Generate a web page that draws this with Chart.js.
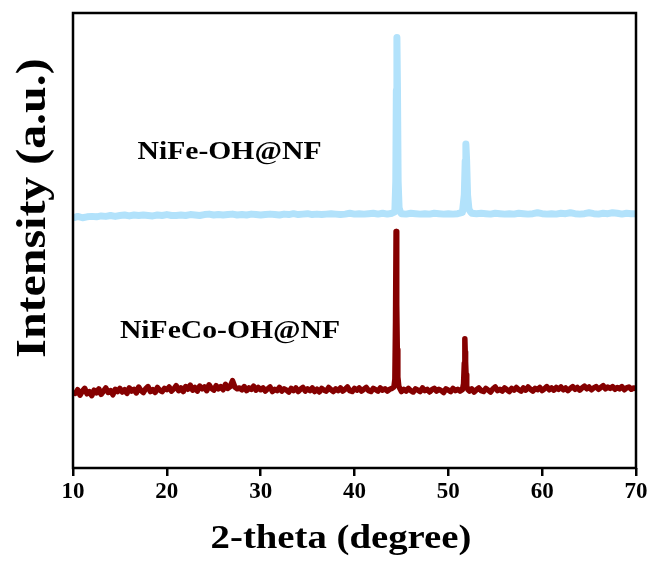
<!DOCTYPE html>
<html>
<head>
<meta charset="utf-8">
<script src="https://cdn.jsdelivr.net/npm/chart.js@4.4.1/dist/chart.umd.min.js"></script>
<style>
html,body{margin:0;padding:0;background:#fff;}
canvas{display:block;}
</style>
</head>
<body>
<canvas id="c" width="651" height="561"></canvas>
<script>
// ---- data ----
const xTicks = [10, 20, 30, 40, 50, 60, 70];
const seriesNames = ["NiFe-OH@NF", "NiFeCo-OH@NF"];
const xTitle = "2-theta (degree)";
const yTitle = "Intensity (a.u.)";

const niFeTheta = [10.2,10.5,11,11.5,12,12.5,13,13.5,14,14.5,15,15.5,16,16.5,17,17.5,18,18.5,19,19.5,20,20.5,21,21.5,22,22.5,23,23.5,24,24.5,25,25.5,26,26.5,27,27.5,28,28.5,29,29.5,30,30.5,31,31.5,32,32.5,33,33.5,34,34.5,35,35.5,36,36.5,37,37.5,38,38.5,39,39.5,40,40.5,41,41.5,42,42.5,43,43.5,44,44.3,44.4,44.46,44.52,44.58,44.65,44.75,44.9,45,45.5,46,46.5,47,47.5,48,48.5,49,49.5,50,50.5,51,51.5,51.7,51.8,51.87,51.95,52.05,52.2,52.4,52.5,53,53.5,54,54.5,55,55.5,56,56.5,57,57.5,58,58.5,59,59.5,60,60.5,61,61.5,62,62.5,63,63.5,64,64.5,65,65.5,66,66.5,67,67.5,68,68.5,69,69.5,69.9];
const niFeInt = [55.1,55.3,55.0,55.2,55.3,55.2,55.4,55.3,55.5,55.3,55.5,55.6,55.4,55.6,55.5,55.6,55.5,55.4,55.6,55.5,55.7,55.5,55.5,55.6,55.5,55.7,55.6,55.5,55.7,55.8,55.6,55.7,55.6,55.7,55.8,55.6,55.7,55.6,55.8,55.7,55.6,55.7,55.8,55.7,55.6,55.8,55.7,55.9,55.7,55.8,55.9,55.7,55.8,55.7,55.8,55.9,55.8,55.7,55.8,56.0,55.8,55.9,55.8,55.9,56.0,55.8,56.0,55.8,56.0,56.3,63,83,94.6,83,63,57.2,56.2,55.9,55.8,56.0,55.9,55.8,55.9,55.8,56.0,55.9,55.8,55.9,55.8,55.9,56.2,60,67.5,71.2,67.5,60,56.8,56.2,56.0,55.9,56.0,55.9,55.8,56.0,55.9,55.8,55.9,55.8,56.0,55.9,55.8,55.9,56.1,55.9,55.8,55.9,55.8,56.0,55.9,56.1,55.9,55.8,55.9,56.1,55.9,55.8,56.0,55.9,56.1,56.0,55.8,56.0,55.9,55.9];

const niFeCoTheta = [
10.25,10.5,10.75,11,11.25,11.5,11.75,12,12.25,12.5,12.75,13,13.25,13.5,13.75,14,14.25,14.5,14.75,15,
15.25,15.5,15.75,16,16.25,16.5,16.75,17,17.25,17.5,17.75,18,18.25,18.5,18.75,19,19.25,19.5,19.75,20,
20.25,20.5,20.75,21,21.25,21.5,21.75,22,22.25,22.5,22.75,23,23.25,23.5,23.75,24,24.25,24.5,24.75,25,
25.25,25.5,25.75,26,26.25,26.5,26.75,27,27.25,27.5,27.75,28,28.25,28.5,28.75,29,29.25,29.5,29.75,30,
30.25,30.5,30.75,31,31.25,31.5,31.75,32,32.25,32.5,32.75,33,33.25,33.5,33.75,34,34.25,34.5,34.75,35,
35.25,35.5,35.75,36,36.25,36.5,36.75,37,37.25,37.5,37.75,38,38.25,38.5,38.75,39,39.25,39.5,39.75,40,
40.25,40.5,40.75,41,41.25,41.5,41.75,42,42.25,42.5,42.75,43,43.25,43.5,43.75,44,
44.2,44.3,44.37,44.43,44.48,44.52,44.56,44.62,44.72,44.85,
45,45.25,45.5,45.75,46,46.25,46.5,46.75,47,47.25,47.5,47.75,48,48.25,48.5,48.75,49,49.25,49.5,49.75,50,50.25,50.5,50.75,51,51.25,51.5,
51.62,51.7,51.76,51.8,51.84,51.89,51.96,52.06,
52.25,52.5,52.75,53,53.25,53.5,53.75,54,54.25,54.5,54.75,55,55.25,55.5,55.75,56,56.25,56.5,56.75,57,
57.25,57.5,57.75,58,58.25,58.5,58.75,59,59.25,59.5,59.75,60,60.25,60.5,60.75,61,61.25,61.5,61.75,62,
62.25,62.5,62.75,63,63.25,63.5,63.75,64,64.25,64.5,64.75,65,65.25,65.5,65.75,66,66.25,66.5,66.75,67,
67.25,67.5,67.75,68,68.25,68.5,68.75,69,69.25,69.5,69.75,69.9];
const niFeCoInt = [
16.4,17.2,16.0,16.9,17.5,16.3,16.8,15.9,17.1,16.5,17.4,16.2,16.9,17.6,16.6,17.0,16.1,17.3,16.8,17.5,
16.7,17.2,16.4,17.6,16.9,17.3,16.5,17.8,17.0,16.6,17.4,17.9,16.8,17.2,16.6,17.7,17.1,16.8,17.5,17.2,
17.8,16.9,17.4,18.1,17.0,17.6,16.8,17.9,17.3,18.2,17.1,17.7,16.9,18.0,17.4,17.8,17.0,18.3,17.5,17.1,
18.1,17.4,17.9,17.2,18.4,17.5,17.9,19.2,17.8,17.4,17.6,17.2,17.9,17.0,17.6,17.3,18.0,17.1,17.7,17.2,
17.6,16.9,17.4,17.8,16.8,17.3,17.0,17.7,16.9,17.4,17.1,16.7,17.5,17.0,17.6,16.8,17.3,17.7,16.9,17.4,
17.0,17.6,16.8,17.3,16.7,17.5,17.1,16.9,17.7,17.2,16.8,17.4,17.0,17.6,16.9,17.3,17.8,17.0,16.8,17.5,
17.1,17.6,16.9,17.3,17.7,17.0,16.8,17.5,17.2,16.9,17.6,17.1,17.4,16.9,17.3,17.5,
17.8,19.5,32,52.0,41,36.0,26,20.0,18.0,17.4,
16.8,17.3,16.9,17.5,17.0,16.7,17.4,17.1,16.8,17.6,17.0,17.3,16.7,17.2,17.5,16.9,17.3,17.0,16.6,17.4,17.1,16.8,17.5,17.0,17.3,16.9,17.2,
18.5,23,28.4,25.5,23.4,20.5,18.0,17.3,
16.9,17.4,16.7,17.2,17.6,17.0,16.8,17.5,17.1,16.7,17.4,17.8,17.0,17.3,16.9,17.6,17.2,16.8,17.5,17.1,
17.7,17.2,16.9,17.6,17.1,17.8,17.3,16.9,17.5,17.2,17.7,17.0,17.4,17.9,17.2,17.6,17.1,17.7,17.3,17.8,
17.2,17.6,17.0,17.5,17.9,17.3,17.7,17.1,17.6,18.0,17.4,17.8,17.2,17.6,17.9,17.3,17.7,18.1,17.4,17.8,
17.5,17.9,17.3,17.7,17.4,17.9,17.2,17.6,17.8,17.3,17.6,17.5];

// ---- chart ----
const toPts = (xs, ys) => xs.map((x, i) => ({x: x, y: ys[i]}));
const FONT = "'Liberation Serif','Times New Roman',serif";

const textPlugin = {
  id: 'textPlugin',
  afterDraw(chart) {
    const ctx = chart.ctx;
    const a = chart.chartArea;
    const xs = chart.scales.x, ys = chart.scales.y;
    ctx.save();
    ctx.strokeStyle = '#000';
    ctx.lineWidth = 2.5;
    ctx.strokeRect(a.left, a.top, a.right - a.left, a.bottom - a.top);
    ctx.fillStyle = '#000';
    const stretch = 1.14;
    const drawText = (txt, cx, by, size, rot) => {
      ctx.save();
      ctx.translate(cx, by);
      if (rot) ctx.rotate(-Math.PI / 2);
      ctx.scale(stretch, 1);
      ctx.font = 'bold ' + size + 'px ' + FONT;
      ctx.textAlign = 'center';
      ctx.textBaseline = 'alphabetic';
      ctx.fillText(txt, 0, 0);
      ctx.restore();
    };
    drawText(seriesNames[0], xs.getPixelForValue(26.68), ys.getPixelForValue(67.9), 26);
    drawText(seriesNames[1], xs.getPixelForValue(26.73), ys.getPixelForValue(28.5), 26);
    drawText(xTitle, 341, 548, 34);
    drawText(yTitle, 45, 208, 42, true);
    ctx.restore();
  }
};

new Chart(document.getElementById('c'), {
  type: 'line',
  data: {
    datasets: [
      {
        label: seriesNames[0],
        data: toPts(niFeTheta, niFeInt),
        borderColor: '#b2e2fb',
        borderWidth: 7,
        pointRadius: 0,
        tension: 0,
        borderJoinStyle: 'round',
        borderCapStyle: 'round'
      },
      {
        label: seriesNames[1],
        data: toPts(niFeCoTheta, niFeCoInt),
        borderColor: '#850000',
        borderWidth: 5.5,
        pointRadius: 0,
        tension: 0,
        borderJoinStyle: 'round',
        borderCapStyle: 'round'
      }
    ]
  },
  options: {
    responsive: false,
    animation: false,
    devicePixelRatio: 1,
    layout: { padding: { left: 0, right: 15, top: 13, bottom: 0 } },
    plugins: { legend: { display: false }, tooltip: { enabled: false } },
    scales: {
      x: {
        type: 'linear',
        min: 10, max: 70,
        afterBuildTicks: s => { s.ticks = xTicks.map(v => ({value: v})); },
        afterFit: s => { s.height = 93; },
        border: { display: false },
        grid: { display: true, drawOnChartArea: false, drawTicks: true, tickLength: 8, color: '#000', lineWidth: 2.5 },
        ticks: {
          color: '#000', padding: 2, maxRotation: 0, autoSkip: false,
          font: { family: FONT, weight: 'bold', size: 23 }
        }
      },
      y: {
        type: 'linear',
        min: 0, max: 100,
        afterFit: s => { s.width = 73; },
        border: { display: false },
        grid: { display: false },
        ticks: { display: false }
      }
    }
  },
  plugins: [textPlugin]
});
</script>
</body>
</html>
